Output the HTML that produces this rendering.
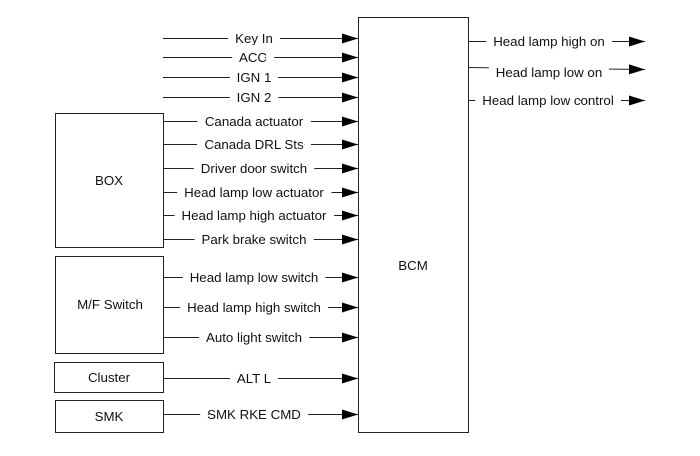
<!DOCTYPE html>
<html><head><meta charset="utf-8"><style>
html,body{margin:0;padding:0;background:#fff;}
svg text{font-family:"Liberation Sans",Arial,sans-serif;font-size:13.3px;fill:#111;}
.l{paint-order:stroke;stroke:#fff;stroke-width:16px;stroke-linejoin:round;}
</style></head><body>
<svg width="700" height="451" viewBox="0 0 700 451" xmlns="http://www.w3.org/2000/svg">
<defs><marker id="a" markerWidth="16" markerHeight="10" refX="16" refY="5" orient="auto" markerUnits="userSpaceOnUse"><path d="M0,0 L16,5 L0,10 Z" fill="#000"/></marker></defs>
<g fill="none" stroke="#222" stroke-width="1">
<rect x="358.5" y="17.5" width="110" height="415"/>
<rect x="55.5" y="113.5" width="108" height="134"/>
<rect x="55.5" y="256.5" width="108" height="97"/>
<rect x="54.5" y="362.5" width="109" height="30"/>
<rect x="55.5" y="400.5" width="108" height="32"/>
</g>
<g stroke="#222" stroke-width="1" marker-end="url(#a)">
<line x1="163" y1="38.5" x2="358" y2="38.5"/>
<line x1="163" y1="57.5" x2="358" y2="57.5"/>
<line x1="163" y1="77.5" x2="358" y2="77.5"/>
<line x1="163" y1="97.5" x2="358" y2="97.5"/>
<line x1="163" y1="121.5" x2="358" y2="121.5"/>
<line x1="163" y1="144.5" x2="358" y2="144.5"/>
<line x1="163" y1="168.5" x2="358" y2="168.5"/>
<line x1="163" y1="192.5" x2="358" y2="192.5"/>
<line x1="163" y1="215.5" x2="358" y2="215.5"/>
<line x1="163" y1="239.5" x2="358" y2="239.5"/>
<line x1="163" y1="277.5" x2="358" y2="277.5"/>
<line x1="163" y1="307.5" x2="358" y2="307.5"/>
<line x1="163" y1="337.5" x2="358" y2="337.5"/>
<line x1="163" y1="378.5" x2="358" y2="378.5"/>
<line x1="163" y1="414.5" x2="358" y2="414.5"/>
<line x1="468" y1="41.5" x2="645" y2="41.5"/>
<line x1="468" y1="67.5" x2="645" y2="69.5"/>
<line x1="468" y1="100.5" x2="645" y2="100.5"/>
</g>
<g text-anchor="middle" class="l">
<text x="254" y="43">Key In</text>
<text x="253" y="62">ACC</text>
<text x="254" y="82">IGN 1</text>
<text x="254" y="102">IGN 2</text>
<text x="254" y="126">Canada actuator</text>
<text x="254" y="149">Canada DRL Sts</text>
<text x="254" y="173">Driver door switch</text>
<text x="254" y="197">Head lamp low actuator</text>
<text x="254" y="220">Head lamp high actuator</text>
<text x="254" y="244">Park brake switch</text>
<text x="254" y="282">Head lamp low switch</text>
<text x="254" y="312">Head lamp high switch</text>
<text x="254" y="342">Auto light switch</text>
<text x="254" y="383">ALT L</text>
<text x="254" y="419">SMK RKE CMD</text>
<text x="549" y="46">Head lamp high on</text>
<text x="549" y="77">Head lamp low on</text>
<text x="548" y="105">Head lamp low control</text>
</g>
<g text-anchor="middle">
<text x="109" y="185">BOX</text>
<text x="110" y="309">M/F Switch</text>
<text x="109" y="382">Cluster</text>
<text x="109" y="421">SMK</text>
<text x="413" y="270">BCM</text>
</g>
</svg>
</body></html>
